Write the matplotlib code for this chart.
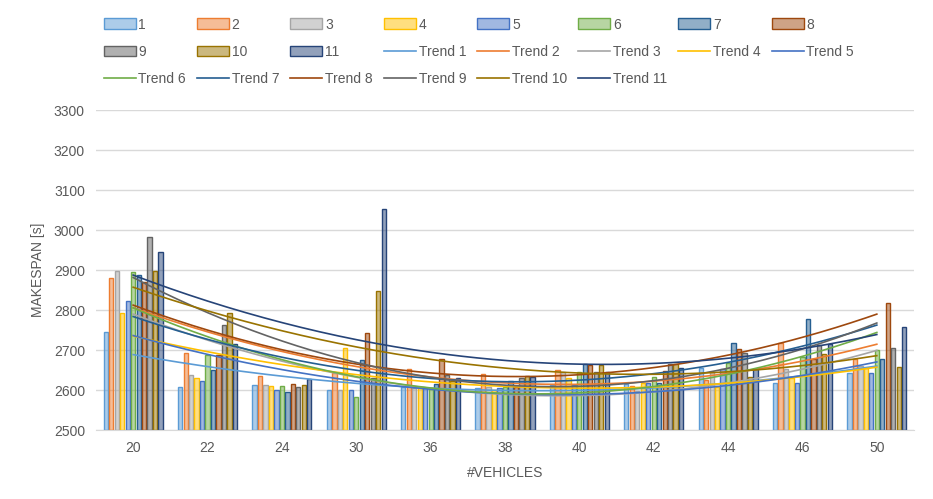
import numpy as np
import matplotlib
matplotlib.use("Agg")
import matplotlib.pyplot as plt
from matplotlib.colors import to_rgba

# categories on the x axis (number of vehicles)
vehicles = ["20", "22", "24", "30", "36", "38", "40", "42", "44", "46", "50"]

# makespan per run (series 1..11), one value per vehicle count
s1 = [2746, 2607, 2612, 2600, 2608, 2604, 2612, 2615, 2656, 2617, 2642]
s2 = [2879, 2692, 2635, 2642, 2653, 2640, 2650, 2611, 2625, 2717, 2677]
s3 = [2898, 2638, 2613, 2600, 2604, 2608, 2646, 2597, 2646, 2652, 2660]
s4 = [2792, 2630, 2611, 2706, 2604, 2600, 2629, 2618, 2608, 2629, 2654]
s5 = [2822, 2622, 2601, 2600, 2604, 2604, 2612, 2617, 2652, 2617, 2642]
s6 = [2895, 2687, 2610, 2583, 2602, 2608, 2644, 2633, 2668, 2683, 2700]
s7 = [2887, 2651, 2594, 2674, 2614, 2623, 2665, 2618, 2718, 2777, 2677]
s8 = [2871, 2688, 2614, 2742, 2677, 2608, 2662, 2648, 2702, 2677, 2818]
s9 = [2983, 2762, 2607, 2629, 2637, 2629, 2646, 2664, 2692, 2712, 2706]
s10 = [2898, 2793, 2613, 2847, 2623, 2636, 2662, 2664, 2632, 2690, 2658]
s11 = [2944, 2715, 2627, 3052, 2629, 2632, 2646, 2656, 2652, 2715, 2757]

series = [s1, s2, s3, s4, s5, s6, s7, s8, s9, s10, s11]
names = [str(i + 1) for i in range(len(series))]

# excel default palette
colors = ["#5B9BD5", "#ED7D31", "#A5A5A5", "#FFC000", "#4472C4", "#70AD47",
          "#255E91", "#9E480E", "#636363", "#997300", "#264478"]

txt = "#595959"
plt.rcParams["font.family"] = ["Liberation Sans", "DejaVu Sans"]

fig = plt.figure(figsize=(9.33, 4.99), dpi=100)
ax = fig.add_axes([96 / 933, 69 / 499, 818 / 933, 320 / 499])

x = np.arange(len(vehicles))
slot = 0.81 / len(series)
bar_handles = []
for j, (vals, c) in enumerate(zip(series, colors)):
    off = (j - (len(series) - 1) / 2) * slot
    b = ax.bar(x + off, np.array(vals) - 2500, bottom=2500, width=slot * 0.78,
               facecolor=to_rgba(c, 0.5), edgecolor=c, linewidth=1.0,
               label=names[j], zorder=2)
    bar_handles.append(b)

# polynomial (order 2) trendlines like excel
xf = np.linspace(0, len(vehicles) - 1, 200)
trend_handles = []
for j, (vals, c) in enumerate(zip(series, colors)):
    p = np.polyfit(x, vals, 2)
    ln, = ax.plot(xf, np.polyval(p, xf), color=c, lw=1.2,
                  label="Trend " + names[j], zorder=3)
    trend_handles.append(ln)

ax.set_xlim(-0.5, len(vehicles) - 0.5)
ax.set_ylim(2500, 3300)
ax.set_yticks(np.arange(2500, 3301, 100))
ax.set_xticks(x)
ax.set_xticklabels(vehicles)
ax.grid(axis="y", color="#D9D9D9", lw=1, zorder=0)
ax.set_axisbelow(True)
for s in ["top", "right", "left"]:
    ax.spines[s].set_visible(False)
ax.spines["bottom"].set_color("#D9D9D9")
ax.tick_params(length=0, colors=txt, labelsize=10, pad=8)
ax.set_xlabel("#VEHICLES", color=txt, fontsize=10, labelpad=8)
ax.set_ylabel("MAKESPAN [s]", color=txt, fontsize=10, labelpad=6)

# legend, row-major order in 8 columns
handles = bar_handles + trend_handles
labels = [h.get_label() for h in handles]
ncol = 8
order = [r * ncol + c for c in range(ncol) for r in range(3) if r * ncol + c < len(handles)]
fig.legend([handles[i] for i in order], [labels[i] for i in order], ncol=ncol,
           loc="upper left", bbox_to_anchor=(98 / 933, 1 - 12 / 499),
           frameon=False, fontsize=10, labelcolor=txt, handlelength=2.3,
           handleheight=0.8, handletextpad=0.2, columnspacing=0.8,
           labelspacing=0.95, borderaxespad=0)

fig.savefig("out.png", dpi=100, facecolor="white", edgecolor="#D9D9D9")
